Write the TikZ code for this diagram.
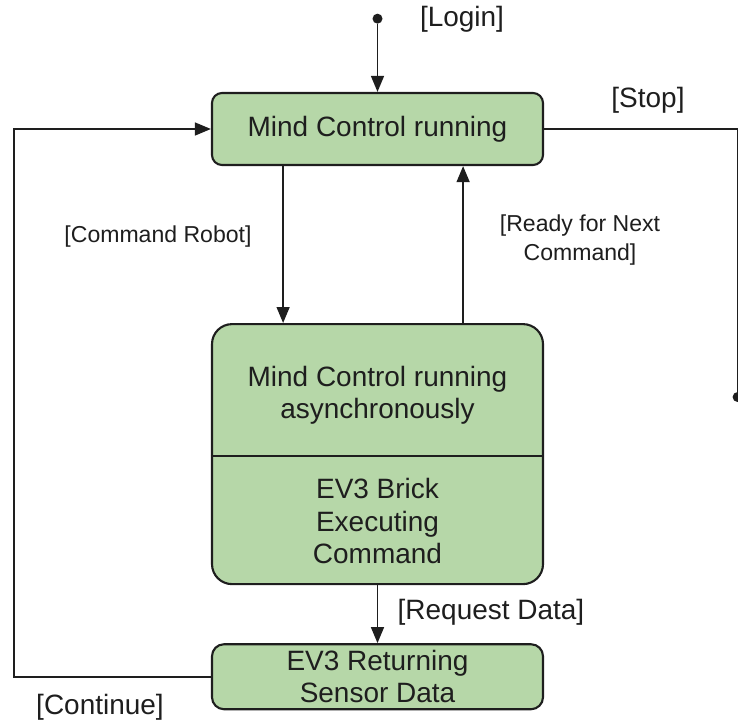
\documentclass[tikz,border=0pt]{standalone}
\usepackage{fontspec}
\setmainfont{Liberation Sans}
\usepackage{xcolor}
\usepackage{tikz}
\usetikzlibrary{arrows.meta,positioning,calc}
\definecolor{stategreen}{RGB}{182,215,168}
\definecolor{inkgray}{RGB}{30,30,30}
\tikzset{
  state/.style={rectangle,rounded corners=0.25cm,draw=inkgray,line width=1.5pt,fill=stategreen,
              minimum width=8.275cm,minimum height=1.8cm,align=center,text=inkgray,
              font=\fontsize{19.9}{23}\selectfont},
  inner/.style={align=center,text=inkgray,font=\fontsize{19.9}{23}\selectfont},
  guard/.style={align=center,text=inkgray,font=\fontsize{19.9}{23}\selectfont},
  smallguard/.style={align=center,text=inkgray,font=\fontsize{16.4}{20.6}\selectfont},
  initdot/.style={circle,fill=inkgray,inner sep=0pt,minimum size=0.25cm},
  flow/.style={-{Triangle[length=0.4cm,width=0.32cm]},line width=1.4pt,draw=inkgray},
  wire/.style={line width=1.4pt,draw=inkgray},
}
\begin{document}
\begin{tikzpicture}
  \useasboundingbox (0,0) rectangle (18.45,-18.1);
  % states
  \node[state] (run) at (9.4375,-3.225) {Mind Control running};
  \node[state,rounded corners=0.5cm,minimum height=6.5cm,below=3.925cm of run] (async) {};
  \coordinate (split) at ($(async.north)+(0,-3.325)$);
  \draw[wire] (async.west |- split) -- (async.east |- split);
  \node[inner] (asynctxt) at ($(async.north)+(0,-1.8)$) {Mind Control running\\asynchronously};
  \node[inner] (bricktxt) at ($(async.north)+(0,-4.95)$) {EV3 Brick\\Executing\\Command};
  \node[state,rounded corners=0.3cm,minimum height=1.625cm,below=1.45cm of async] (sensor) {EV3 Returning\\Sensor Data};
  \node[initdot,above=1.7cm of run.north] (start) {};
  \coordinate (leftrail) at (0.35,0);
  \node[initdot] (stopend) at (18.44,-9.925) {};

  % guards
  \node[guard] (login) at (11.55,-0.475) {[Login]};
  \node[guard] (stop) at (16.2,-2.5) {[Stop]};
  \node[smallguard] (cmd) at (3.95,-5.925) {[Command Robot]};
  \node[smallguard] (ready) at (14.5,-6.0) {[Ready for Next\\Command]};
  \node[guard] (req) at (12.275,-15.3) {[Request Data]};
  \node[guard] (cont) at (2.5,-17.675) {[Continue]};

  % transitions
  \draw[flow] (start) -- (run);
  \draw[flow] ([xshift=-2.36cm]run.south) -- ([xshift=-2.36cm]run.south |- async.north);
  \draw[flow] ([xshift=2.14cm]async.north) -- ([xshift=2.14cm]async.north |- run.south);
  \draw[flow] (async) -- (sensor);
  \draw[flow] (sensor.west) -- (sensor.west -| leftrail) |- (run.west);
  \draw[wire] (run.east) -- (run.east -| stopend) -- (stopend);
\end{tikzpicture}
\end{document}
